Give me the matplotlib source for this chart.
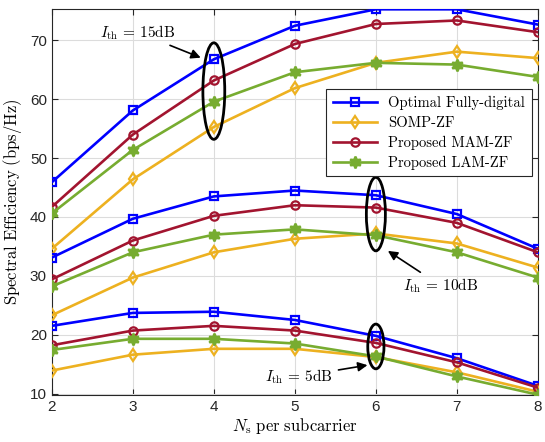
import numpy as np
import matplotlib
matplotlib.use("Agg")
import matplotlib.pyplot as plt
from matplotlib.patches import Ellipse

plt.rcParams['font.family'] = ['Liberation Sans', 'DejaVu Sans']
plt.rcParams['mathtext.fontset'] = 'cm'

ns = [2, 3, 4, 5, 6, 7, 8]

# I_th = 15dB
opt_15 = [45.9, 58.1, 66.8, 72.5, 75.3, 75.3, 72.7]
somp_15 = [34.6, 46.4, 55.3, 61.9, 66.2, 68.1, 67.0]
mam_15 = [41.7, 54.0, 63.2, 69.4, 72.8, 73.4, 71.4]
lam_15 = [40.6, 51.4, 59.6, 64.6, 66.2, 65.9, 63.8]

# I_th = 10dB
opt_10 = [33.1, 39.7, 43.5, 44.5, 43.7, 40.5, 34.6]
somp_10 = [23.3, 29.7, 34.0, 36.3, 37.2, 35.5, 31.4]
mam_10 = [29.4, 36.0, 40.2, 42.0, 41.6, 39.0, 34.0]
lam_10 = [28.2, 34.0, 37.0, 37.9, 36.9, 34.0, 29.7]

# I_th = 5dB
opt_5 = [21.5, 23.7, 23.9, 22.5, 19.8, 16.0, 11.3]
somp_5 = [13.9, 16.6, 17.6, 17.6, 16.2, 13.6, 10.3]
mam_5 = [18.2, 20.7, 21.5, 20.7, 18.6, 15.3, 11.0]
lam_5 = [17.4, 19.3, 19.3, 18.5, 16.3, 12.9, 9.8]

labels = ['Optimal Fully-digital', 'SOMP-ZF', 'Proposed MAM-ZF', 'Proposed LAM-ZF']
colors = ['#0000FF', '#EDB120', '#A2142F', '#77AC30']
markers = ['s', 'd', 'o', (6, 1, 0)]

groups = [
    [opt_15, somp_15, mam_15, lam_15],
    [opt_10, somp_10, mam_10, lam_10],
    [opt_5, somp_5, mam_5, lam_5],
]

fig = plt.figure(figsize=(5.45, 4.42), dpi=100)
ax = fig.add_axes([0.095, 0.107, 0.892, 0.872])

for gi, grp in enumerate(groups):
    for k, vals in enumerate(grp):
        star = k == 3
        ax.plot(ns, vals, color=colors[k], marker=markers[k], lw=1.9,
                ms=8.5 if star else 6,
                mfc=colors[k] if star else 'none', mec=colors[k], mew=1.6,
                label=labels[k] if gi == 0 else None, zorder=3)

ax.set_xlim(2, 8)
ax.set_ylim(9.8, 75.3)
ax.set_xticks(ns)
ax.set_yticks([10, 20, 30, 40, 50, 60, 70])
ax.grid(True, color='#dcdcdc', lw=0.8)
ax.set_axisbelow(True)
ax.tick_params(direction='in', top=True, right=True, labelsize=11, length=4,
               colors='#262626')
for s in ax.spines.values():
    s.set_color('#262626')
    s.set_linewidth(0.8)

ax.set_xlabel(r'$N_{\mathrm{s}}\ \mathrm{per\ subcarrier}$', fontsize=12, labelpad=2)
ax.set_ylabel(r'$\mathrm{Spectral\ Efficiency\ (bps/Hz)}$', fontsize=12, labelpad=4)

# ellipses and annotations
ax.add_patch(Ellipse((4, 61.4), 0.27, 16.4, fill=False, ec='black', lw=2, zorder=4))
ax.add_patch(Ellipse((6, 40.5), 0.235, 12.5, fill=False, ec='black', lw=2, zorder=4))
ax.add_patch(Ellipse((6, 18.0), 0.2, 7.6, fill=False, ec='black', lw=2, zorder=4))

arrow = dict(arrowstyle='-|>', color='black', lw=1.2, mutation_scale=14)
ax.annotate(r'$I_{\mathrm{th}}\,=\,15\mathrm{dB}$', xy=(3.87, 66.9), xytext=(3.52, 71.4),
            fontsize=11, ha='right', va='center', arrowprops=arrow, zorder=5)
ax.annotate(r'$I_{\mathrm{th}}\,=\,10\mathrm{dB}$', xy=(6.12, 34.5), xytext=(6.34, 28.3),
            fontsize=11, ha='left', va='center', arrowprops=arrow, zorder=5)
ax.annotate(r'$I_{\mathrm{th}}\,=\,5\mathrm{dB}$', xy=(5.93, 14.9), xytext=(5.47, 12.9),
            fontsize=11, ha='right', va='center', arrowprops=arrow, zorder=5)

leg = ax.legend(loc='upper right', bbox_to_anchor=(0.987, 0.792), borderaxespad=0,
                frameon=True, fancybox=False, framealpha=1, edgecolor='#262626',
                handlelength=3.0, borderpad=0.45, labelspacing=0.4,
                prop={'family': 'cmr10', 'size': 10.5})
leg.get_frame().set_linewidth(0.8)

fig.savefig('out.png', dpi=100)
